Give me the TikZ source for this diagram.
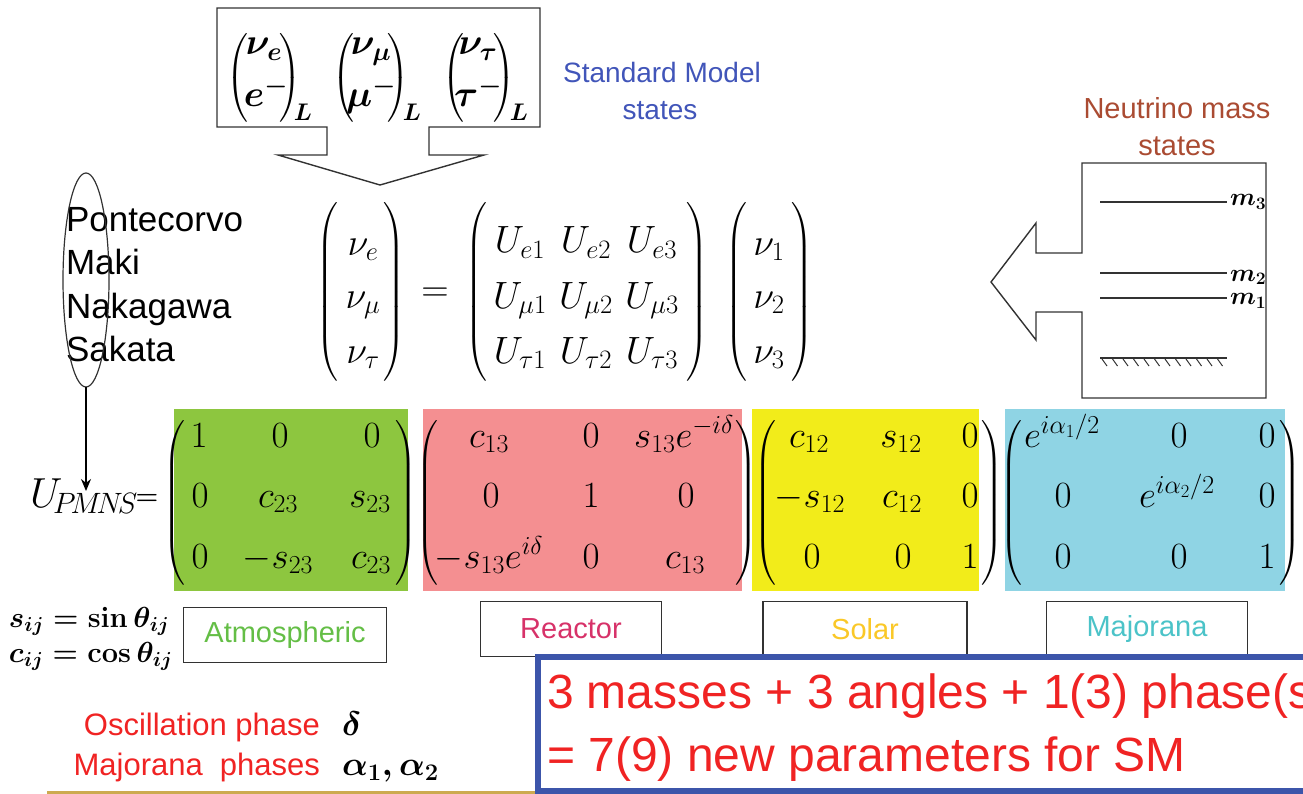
\RequirePackage{fix-cm}
\documentclass[tikz,border=0pt]{standalone}
\usepackage[no-math]{fontspec}
\newfontfamily\arial{Liberation Sans}
\usepackage{amsmath}
\usetikzlibrary{shapes.geometric,arrows.meta}
\definecolor{smblue}{RGB}{65,85,185}
\definecolor{nmbrown}{RGB}{170,75,50}
\definecolor{gbox}{RGB}{141,198,63}
\definecolor{pbox}{RGB}{244,143,145}
\definecolor{ybox}{RGB}{242,236,26}
\definecolor{bbox}{RGB}{143,212,228}
\definecolor{atmc}{RGB}{100,190,70}
\definecolor{reac}{RGB}{215,50,105}
\definecolor{solc}{RGB}{250,200,40}
\definecolor{majc}{RGB}{75,195,200}
\definecolor{redt}{RGB}{240,35,35}
\definecolor{frameblue}{RGB}{60,85,170}
\definecolor{olivel}{RGB}{205,170,80}
\definecolor{dgray}{RGB}{50,50,50}
\newcommand{\LPz}[1]{$\left(\vcenter{\hrule height #1 width 0pt}\right.$}
\newcommand{\RPz}[1]{$\left.\vcenter{\hrule height #1 width 0pt}\right)$}
\begin{document}
\begin{tikzpicture}[x=1pt,y=-1pt,
  every node/.style={inner sep=0pt, outer sep=0pt},
  ent/.style={anchor=base, font=\fontsize{37}{42}\selectfont},
  meq/.style={anchor=base, font=\fontsize{38}{42}\selectfont},
  dbl/.style={anchor=base, font=\fontsize{37}{42}\selectfont\boldmath},
  pp/.style={anchor=center, font=\fontsize{30}{30}\selectfont},
  arl/.style={anchor=base west, font=\fontsize{35}{42}\selectfont\arial},
  lab/.style={draw=dgray, line width=1.4pt, minimum height=55pt, font=\fontsize{29}{34}\selectfont\arial},
  thin/.style={draw=dgray, line width=1.4pt}
]
\useasboundingbox (0,0) rectangle (1303,794);
\clip (0,0) rectangle (1303,794);

% ---------- top box with arrow ----------
\draw[thin] (217,8) -- (540,8) -- (540,127) -- (429,127) -- (429,155) -- (484,155)
  -- (380,185) -- (278,155) -- (327,155) -- (327,127) -- (217,127) -- cycle;
\node[pp, font=\fontsize{34}{34}\selectfont] (d1l) at (238,78) {\LPz{88pt}};
\node[pp, font=\fontsize{34}{34}\selectfont] (d1r) at (290,78) {\RPz{88pt}};
\node[pp, font=\fontsize{34}{34}\selectfont] (d2l) at (344,78) {\LPz{88pt}};
\node[pp, font=\fontsize{34}{34}\selectfont] (d2r) at (398,78) {\RPz{88pt}};
\node[pp, font=\fontsize{34}{34}\selectfont] (d3l) at (454,78) {\LPz{88pt}};
\node[pp, font=\fontsize{34}{34}\selectfont] (d3r) at (504,78) {\RPz{88pt}};
\node[dbl] (d1a) at (264,55) {$\nu_e$};
\node[dbl] (d1b) at (266,107) {$e^-$};
\node[dbl] (d2a) at (371,55) {$\nu_\mu$};
\node[dbl] (d2b) at (371,107) {$\mu^-$};
\node[dbl] (d3a) at (478,55) {$\nu_\tau$};
\node[dbl] (d3b) at (478,107) {$\tau^-$};
\node[anchor=base, font=\fontsize{24}{30}\selectfont\boldmath] (L1) at (303,121) {$L$};
\node[anchor=base, font=\fontsize{24}{30}\selectfont\boldmath] (L2) at (412,121) {$L$};
\node[anchor=base, font=\fontsize{24}{30}\selectfont\boldmath] (L3) at (519,121) {$L$};

\node[anchor=base, font=\fontsize{28}{32}\selectfont\arial, text=smblue] (sm1) at (662,83) {Standard Model};
\node[anchor=base, font=\fontsize{28}{32}\selectfont\arial, text=smblue] (sm2) at (660,120) {states};

% ---------- mass states box ----------
\node[anchor=base, font=\fontsize{29}{32}\selectfont\arial, text=nmbrown] (nm1) at (1177,119) {Neutrino mass};
\node[anchor=base, font=\fontsize{29}{32}\selectfont\arial, text=nmbrown] (nm2) at (1177,156) {states};
\draw[thin] (1082,163) -- (1266,163) -- (1266,398) -- (1082,398) -- (1082,312) -- (1036,312)
  -- (1036,340) -- (991,282) -- (1036,223) -- (1036,253) -- (1082,253) -- cycle;
\draw[thin] (1100,202) -- (1227,202);
\draw[thin] (1100,273) -- (1227,273);
\draw[thin] (1100,298) -- (1227,298);
\draw[thin] (1100,358) -- (1227,358);
\foreach \i in {0,...,11} \draw[dgray, line width=1pt] (1102+\i*10.5,359) -- ++(5,7);
\node[anchor=base west, font=\fontsize{25}{28}\selectfont\boldmath] (m3) at (1230,206) {$m_3$};
\node[anchor=base west, font=\fontsize{25}{28}\selectfont\boldmath] (m2) at (1230,281) {$m_2$};
\node[anchor=base west, font=\fontsize{25}{28}\selectfont\boldmath] (m1) at (1230,305) {$m_1$};

% ---------- PMNS names ----------
\node[arl] (pn1) at (66,232) {Pontecorvo};
\node[arl] (pn2) at (66,275) {Maki};
\node[arl] (pn3) at (66,318) {Nakagawa};
\node[arl] (pn4) at (66,361) {Sakata};
\node[draw=dgray, line width=1.2pt, ellipse, minimum width=46pt, minimum height=214pt] (ell) at (86,280) {};
\coordinate (utip) at (86,491);
\draw[line width=1.3pt, -{Stealth[length=12pt,width=10pt]}] (ell.south) -- (utip);

% ---------- central equation ----------
\node[pp, font=\fontsize{34}{34}\selectfont] (v1l) at (328,292) {\LPz{175pt}};
\node[pp, font=\fontsize{34}{34}\selectfont] (v1r) at (394,292) {\RPz{175pt}};
\node[pp, font=\fontsize{34}{34}\selectfont] (ul) at (477,292) {\LPz{175pt}};
\node[pp, font=\fontsize{34}{34}\selectfont] (ur) at (697,292) {\RPz{175pt}};
\node[pp, font=\fontsize{34}{34}\selectfont] (v2l) at (737,292) {\LPz{175pt}};
\node[pp, font=\fontsize{34}{34}\selectfont] (v2r) at (802,292) {\RPz{175pt}};
\node[meq] (ve) at (363,255) {$\nu_e$};
\node[meq] (vm) at (363,308) {$\nu_\mu$};
\node[meq] (vt) at (363,363) {$\nu_\tau$};
\node[anchor=center, font=\fontsize{38}{38}\selectfont] (eq) at (435,295) {$=$};
\node[meq] (u11) at (520,253) {$U_{e1}$};
\node[meq] (u12) at (586,253) {$U_{e2}$};
\node[meq] (u13) at (652,253) {$U_{e3}$};
\node[meq] (u21) at (520,308) {$U_{\mu1}$};
\node[meq] (u22) at (586,308) {$U_{\mu2}$};
\node[meq] (u23) at (652,308) {$U_{\mu3}$};
\node[meq] (u31) at (520,363) {$U_{\tau1}$};
\node[meq] (u32) at (586,363) {$U_{\tau2}$};
\node[meq] (u33) at (652,363) {$U_{\tau3}$};
\node[meq] (n1) at (769,255) {$\nu_1$};
\node[meq] (n2) at (769,308) {$\nu_2$};
\node[meq] (n3) at (769,363) {$\nu_3$};

% ---------- factorised matrices ----------
\fill[gbox] (174,409) rectangle (408,591);
\fill[pbox] (423,409) rectangle (742,591);
\fill[ybox] (752,409) rectangle (979,591);
\fill[bbox] (1005,409) rectangle (1285,591);

\node[anchor=base west, font=\fontsize{42}{44}\selectfont] (up) at (30,507) {$U_{\!P\!M\!N\!S}$};
\node[anchor=base, font=\fontsize{26}{40}\selectfont\boldmath] (upeq) at (147,504) {$=$};

\foreach \x/\nm/\s in {175/gl/L, 406/gr/R, 428/pl/L, 746/pr/R, 766/yl/L, 992/yr/R, 1012/bl/L, 1290/br/R}{
  \node[pp, font=\fontsize{32}{32}\selectfont] (\nm) at (\x,503) {\csname \s Pz\endcsname{165pt}};
}

\node[ent] (g11) at (199,447) {$1$};
\node[ent] (g12) at (280,447) {$0$};
\node[ent] (g13) at (372,447) {$0$};
\node[ent] (g21) at (200,507) {$0$};
\node[ent] (g22) at (278,507) {$c_{23}$};
\node[ent] (g23) at (370,507) {$s_{23}$};
\node[ent] (g31) at (200,568) {$0$};
\node[ent] (g32) at (278,568) {$-s_{23}$};
\node[ent] (g33) at (371,568) {$c_{23}$};

\node[ent] (p11) at (489,447) {$c_{13}$};
\node[ent] (p12) at (591,447) {$0$};
\node[ent] (p13) at (684,447) {$s_{13}e^{-i\delta}$};
\node[ent] (p21) at (491,507) {$0$};
\node[ent] (p22) at (591,507) {$1$};
\node[ent] (p23) at (686,507) {$0$};
\node[ent] (p31) at (489,568) {$-s_{13}e^{i\delta}$};
\node[ent] (p32) at (591,568) {$0$};
\node[ent] (p33) at (685,568) {$c_{13}$};

\node[ent] (y11) at (809,447) {$c_{12}$};
\node[ent] (y12) at (901,447) {$s_{12}$};
\node[ent] (y13) at (970,447) {$0$};
\node[ent] (y21) at (810,507) {$-s_{12}$};
\node[ent] (y22) at (902,507) {$c_{12}$};
\node[ent] (y23) at (970,507) {$0$};
\node[ent] (y31) at (812,568) {$0$};
\node[ent] (y32) at (903,568) {$0$};
\node[ent] (y33) at (970,568) {$1$};

\node[ent] (b11) at (1062,447) {$e^{i\alpha_1/2}$};
\node[ent] (b12) at (1179,447) {$0$};
\node[ent] (b13) at (1267,447) {$0$};
\node[ent] (b21) at (1063,507) {$0$};
\node[ent] (b22) at (1177,507) {$e^{i\alpha_2/2}$};
\node[ent] (b23) at (1267,507) {$0$};
\node[ent] (b31) at (1063,568) {$0$};
\node[ent] (b32) at (1179,568) {$0$};
\node[ent] (b33) at (1267,568) {$1$};

% ---------- labels ----------
\node[lab, minimum width=203pt, text=atmc] (atm) at (285,635) {Atmospheric};
\node[lab, minimum width=181pt, text=reac] (rea) at (571,629) {Reactor};
\node[lab, minimum width=204pt, text=solc] (sol) at (865,629) {Solar};
\node[lab, minimum width=201pt, text=majc] (maj) at (1147,629) {Majorana};

\node[anchor=base west, font=\fontsize{29}{34}\selectfont\boldmath] (sij) at (9,627) {$s_{ij}=\sin\theta_{ij}$};
\node[anchor=base west, font=\fontsize{29}{34}\selectfont\boldmath] (cij) at (9,662) {$c_{ij}=\cos\theta_{ij}$};

\node[anchor=base east, font=\fontsize{31}{34}\selectfont\arial, text=redt] (osc) at (320,735) {Oscillation phase};
\node[anchor=base east, font=\fontsize{31}{34}\selectfont\arial, text=redt] (majp) at (320,775) {Majorana\ \ phases};
\node[anchor=base west, font=\fontsize{34}{38}\selectfont\boldmath] (del) at (342,735) {$\delta$};
\node[anchor=base west, font=\fontsize{34}{38}\selectfont\boldmath] (alp) at (342,775) {$\alpha_1,\alpha_2$};

\draw[olivel, line width=3pt] (47,792) -- (537,792);

% ---------- parameter box ----------
\draw[frameblue, line width=6pt, fill=white] (538,657) rectangle (1330,791);
\node[anchor=base west, font=\fontsize{48}{52}\selectfont\arial, text=redt] (t1) at (547,708) {3 masses + 3 angles + 1(3) phase(s};
\node[anchor=base west, font=\fontsize{48}{52}\selectfont\arial, text=redt] (t2) at (547,771) {= 7(9) new parameters for SM};
\end{tikzpicture}
\end{document}
